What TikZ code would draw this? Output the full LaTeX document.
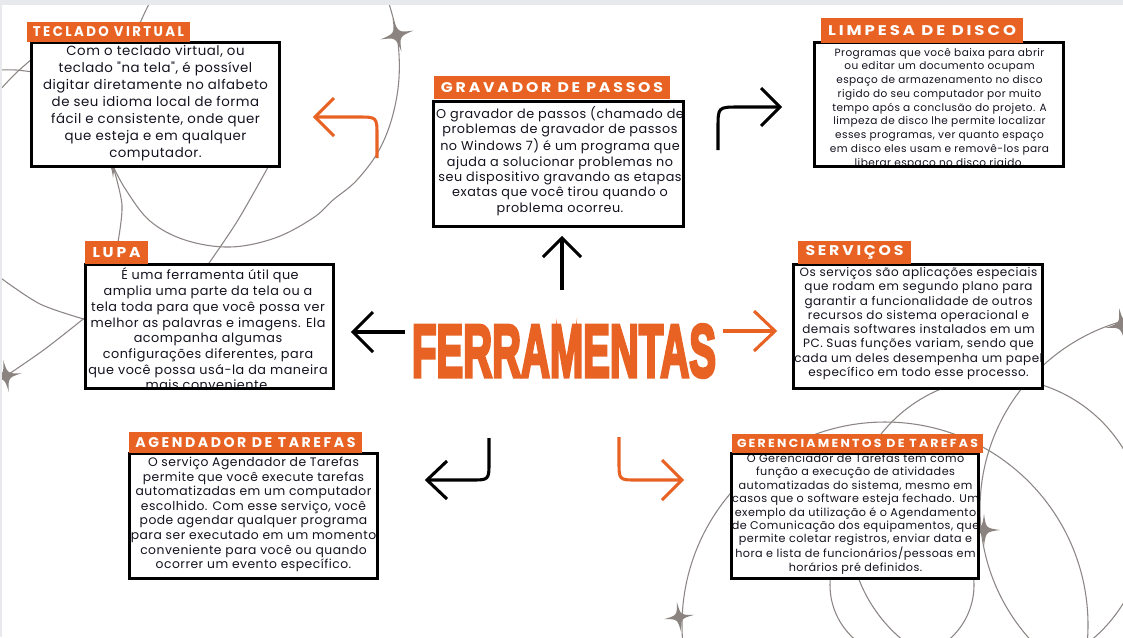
\documentclass[tikz,border=0pt]{standalone}
\usepackage{fontspec}
\setmainfont{Poppins}
\newfontfamily\bodyfont{Poppins}[LetterSpace=4]
\newfontfamily\labelfont{Poppins}[LetterSpace=18]
\newfontfamily\titlefont{Liberation Sans}[BoldFeatures={FakeBold=5}]
\definecolor{accent}{RGB}{232,98,35}
\definecolor{decogray}{RGB}{140,134,133}
\definecolor{starfill}{RGB}{138,131,128}
\definecolor{topbar}{RGB}{232,233,236}
\definecolor{ink}{RGB}{20,18,30}
% label text squeezed to a given width and cap height
\newcommand\taglabel[3]{\resizebox{#1pt}{#2pt}{\labelfont\bfseries #3}}
\tikzset{
  deco/.style={draw=decogray, line width=0.8pt},
  card/.style={fill=white, inner sep=0pt},
  cardedge/.style={draw=black, line width=1.9pt},
  tag/.style={fill=accent, inner sep=0pt, text=white},
  body/.style={inner sep=0pt, align=center, text=ink},
  bentarrow/.style={line width=2.3pt, line cap=butt, line join=miter},
  sparkle/.pic={\fill[starfill] (1,0) .. controls (0.12,0.12) .. (0,1)
     .. controls (-0.12,0.12) .. (-1,0) .. controls (-0.12,-0.12) .. (0,-1)
     .. controls (0.12,-0.12) .. (1,0) -- cycle;}
}
\begin{document}
\begin{tikzpicture}[x=0.75pt,y=-0.75pt]
\useasboundingbox (0,0) rectangle (1123,637);
\fill[white] (0,0) rectangle (1123,637);

% background rings and sparkles
\begin{scope}
\clip (0,0) rectangle (1123,637);
% left group
\draw[deco] plot[smooth, tension=0.6] coordinates {(386,-6) (397,35) (399,78) (392,118) (378,152)
   (356,181) (333,200) (313,218) (275,238) (230,247) (185,240) (150,221) (126,190) (113,166)};
\draw[deco] plot[smooth] coordinates {(113,166) (122,205) (118,242)};
\draw[deco] plot[smooth] coordinates {(272,160) (238,220) (207,266)};
\draw[deco] plot[smooth] coordinates {(-2,276) (40,304) (87,320)};
\draw[deco] plot[smooth] coordinates {(87,316) (45,349) (6,376)};
\draw[deco] plot[smooth] coordinates {(-2,70) (16,70) (33,72)};
\draw[deco] plot[smooth] coordinates {(-2,92) (15,74) (33,58)};
\draw[deco] plot[smooth] coordinates {(152,-2) (146,10) (140,23)};
% right group
\draw[deco] (885,625) circle[radius=203];
\draw[deco] (997,526) circle[radius=148];
\draw[deco] (1175,509) circle[radius=195];
\draw[deco] (902,585) circle[radius=72];
\pic[scale=17, rotate=15] at (397,35) {sparkle};
\pic[scale=15] at (113,163) {sparkle};
\pic[scale=16, rotate=10] at (6,376) {sparkle};
\pic[scale=17, rotate=10] at (1122,325) {sparkle};
\pic[scale=16] at (984,530) {sparkle};
\pic[scale=15, rotate=8] at (679,617) {sparkle};
\end{scope}
\fill[topbar] (0,0) rectangle (1123,5);
\fill[topbar] (0,0) rectangle (2,637);

% central title
\node[inner sep=0pt, text=accent] (title) at (564,351)
  {\resizebox{228pt}{39pt}{\titlefont\bfseries FERRAMENTAS}};

% straight arrows around the title
\coordinate (upS) at (562,290);   \coordinate (upT) at (562,238);
\coordinate (lfS) at (405,332);   \coordinate (lfT) at (353,332);
\coordinate (rtS) at (723,331);   \coordinate (rtT) at (775,331);
\draw[bentarrow] (upS) -- (upT);
\draw[bentarrow] ([shift={(-19,19)}]upT) -- (upT) -- ([shift={(19,19)}]upT);
\draw[bentarrow] (lfS) -- (lfT);
\draw[bentarrow] ([shift={(20,-20)}]lfT) -- (lfT) -- ([shift={(20,20)}]lfT);
\draw[bentarrow, accent] (rtS) -- (rtT);
\draw[bentarrow, accent] ([shift={(-21,-20)}]rtT) -- (rtT) -- ([shift={(-21,20)}]rtT);

% bent arrows
\coordinate (tlS) at (377,158); \coordinate (tlT) at (315,117);
\draw[bentarrow, accent] (tlS) -- (377,136) .. controls (377,117) .. (358,117) -- (tlT);
\draw[bentarrow, accent] ([shift={(19,-19)}]tlT) -- (tlT) -- ([shift={(19,19)}]tlT);
\coordinate (trS) at (718,150); \coordinate (trT) at (780,107);
\draw[bentarrow] (trS) -- (718,128) .. controls (718,107) .. (739,107) -- (trT);
\draw[bentarrow] ([shift={(-19,-19)}]trT) -- (trT) -- ([shift={(-19,19)}]trT);
\coordinate (blS) at (489,438); \coordinate (blT) at (427,480);
\draw[bentarrow] (blS) -- (489,462) .. controls (489,480) .. (471,480) -- (blT);
\draw[bentarrow] ([shift={(20,-19)}]blT) -- (blT) -- ([shift={(20,19)}]blT);
\coordinate (brS) at (619,437); \coordinate (brT) at (682,480);
\draw[bentarrow, accent] (brS) -- (619,462) .. controls (619,480) .. (637,480) -- (brT);
\draw[bentarrow, accent] ([shift={(-20,-20)}]brT) -- (brT) -- ([shift={(-20,20)}]brT);

% ---- Teclado virtual
\node[card, minimum width=185.25pt, minimum height=92.25pt] (tecB) at (155.5,104.5) {};
\begin{scope}
\clip (tecB.north west) rectangle (tecB.south east);
\node[body, font=\bodyfont\fontsize{10}{12.75}\selectfont] (tecT) at (155.5,103)
 {Com o teclado virtual, ou\\ teclado "na tela", é possível\\ digitar diretamente no alfabeto\\
  de seu idioma local de forma\\ fácil e consistente, onde quer\\ que esteja e em qualquer\\ computador.};
\end{scope}
\draw[cardedge] (tecB.north west) rectangle (tecB.south east);
\node[tag, minimum width=122.25pt, minimum height=15pt] (tecL) at (108.5,32)
  {\taglabel{113.25}{7.5}{TECLADO VIRTUAL}};

% ---- Gravador de passos
\node[card, minimum width=186.75pt, minimum height=93pt] (gravB) at (558.5,164) {};
\begin{scope}
\clip (gravB.north west) rectangle (gravB.south east);
\node[body, font=\bodyfont\fontsize{9.6}{11.5}\selectfont] (gravT) at (560,161)
 {O gravador de passos (chamado de\\ problemas de gravador de passos\\ no Windows 7) é um programa que\\
  ajuda a solucionar problemas no\\ seu dispositivo gravando as etapas\\ exatas que você tirou quando o\\ problema ocorreu.};
\end{scope}
\draw[cardedge] (gravB.north west) rectangle (gravB.south east);
\node[tag, minimum width=177pt, minimum height=17.25pt] (gravL) at (552,87.5)
  {\taglabel{166.5}{7.5}{GRAVADOR DE PASSOS}};

% ---- Limpesa de disco
\node[card, minimum width=186pt, minimum height=92.25pt] (limpB) at (939,104.5) {};
\begin{scope}
\clip (limpB.north west) rectangle (limpB.south east);
\node[body, font=\bodyfont\fontsize{7.9}{10.3}\selectfont] (limpT) at (939.5,108.5)
 {Programas que você baixa para abrir\\ ou editar um documento ocupam\\ espaço de armazenamento no disco\\
  rigido do seu computador por muito\\ tempo após a conclusão do projeto. A\\ limpeza de disco lhe permite localizar\\
  esses programas, ver quanto espaço\\ em disco eles usam e removê-los para\\ liberar espaço no disco rigido.};
\end{scope}
\draw[cardedge] (limpB.north west) rectangle (limpB.south east);
\node[tag, minimum width=151.5pt, minimum height=18.75pt] (limpL) at (922,30.5)
  {\taglabel{141}{7.5}{LIMPESA DE DISCO}};

% ---- Lupa
\node[card, minimum width=185.25pt, minimum height=92.25pt] (lupaB) at (209.5,326.5) {};
\begin{scope}
\clip (lupaB.north west) rectangle (lupaB.south east);
\node[body, font=\bodyfont\fontsize{9.6}{11.8}\selectfont] (lupaT) at (208,329)
 {\ É uma ferramenta útil que\\ amplia uma parte da tela ou a\\ tela toda para que você possa ver\\
  melhor as palavras e imagens. Ela\\ acompanha algumas\\ configurações diferentes, para\\
  que você possa usá-la da maneira\\ mais conveniente.};
\end{scope}
\draw[cardedge] (lupaB.north west) rectangle (lupaB.south east);
\node[tag, minimum width=47.25pt, minimum height=17.25pt] (lupaL) at (116.5,252.5)
  {\taglabel{36}{7.5}{LUPA}};

% ---- Serviços
\node[card, minimum width=186pt, minimum height=92.25pt] (servB) at (918,326.5) {};
\begin{scope}
\clip (servB.north west) rectangle (servB.south east);
\node[body, font=\bodyfont\fontsize{9.0}{10.7}\selectfont] (servT) at (918.5,323.5)
 {Os serviços são aplicações especiais\\ que rodam em segundo plano para\\ garantir a funcionalidade de outros\\
  recursos do sistema operacional e\\ demais softwares instalados em um\\ PC. Suas funções variam, sendo que\\
  cada um deles desempenha um papel\\ específico em todo esse processo.};
\end{scope}
\draw[cardedge] (servB.north west) rectangle (servB.south east);
\node[tag, minimum width=84.75pt, minimum height=17.25pt] (servL) at (854.5,252.5)
  {\taglabel{73.5}{7.5}{SERVIÇOS}};

% ---- Agendador de tarefas
\node[card, minimum width=185.25pt, minimum height=93pt] (agenB) at (253.5,516) {};
\begin{scope}
\clip (agenB.north west) rectangle (agenB.south east);
\node[body, font=\bodyfont\fontsize{9.25}{10.95}\selectfont] (agenT) at (253.5,514.5)
 {O serviço Agendador de Tarefas\\ permite que você execute tarefas\\ automatizadas em um computador\\
  escolhido. Com esse serviço, você\\ pode agendar qualquer programa\\ para ser executado em um momento\\
  conveniente para você ou quando\\ ocorrer um evento específico.};
\end{scope}
\draw[cardedge] (agenB.north west) rectangle (agenB.south east);
\node[tag, minimum width=174.75pt, minimum height=15.75pt] (agenL) at (245.5,442.5)
  {\taglabel{165}{7.5}{AGENDADOR DE TAREFAS}};

% ---- Gerenciamentos de tarefas
\node[card, minimum width=184.5pt, minimum height=93pt] (gereB) at (855,516) {};
\begin{scope}
\clip (gereB.north west) rectangle (gereB.south east);
\node[body, font=\bodyfont\fontsize{8.4}{10.05}\selectfont] (gereT) at (855.5,514)
 {O Gerenciador de Tarefas tem como\\ função a execução de atividades\\ automatizadas do sistema, mesmo em\\
  casos que o software esteja fechado. Um\\ exemplo da utilização é o Agendamento\\ de Comunicação dos equipamentos, que\\
  permite coletar registros, enviar data e\\ hora e lista de funcionários/pessoas em\\ horários pré definidos.};
\end{scope}
\draw[cardedge] (gereB.north west) rectangle (gereB.south east);
\node[tag, minimum width=188.25pt, minimum height=14.25pt] (gereL) at (857.5,443.5)
  {\taglabel{180.75}{6.2}{GERENCIAMENTOS DE TAREFAS}};
\end{tikzpicture}
\end{document}
